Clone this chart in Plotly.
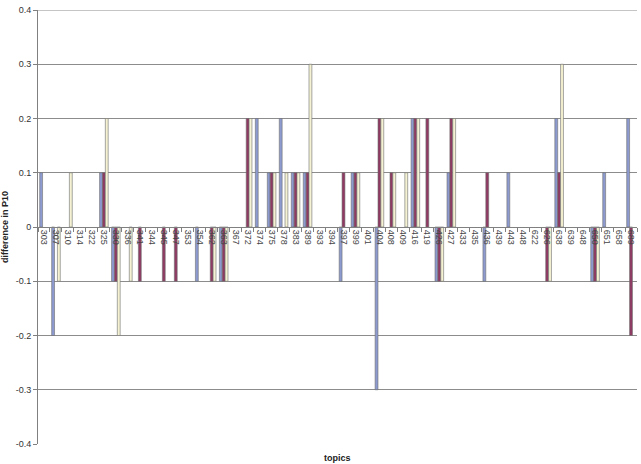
import plotly.graph_objects as go

topics = ["303", "307", "310", "314", "322", "325", "330", "336", "341", "344",
          "345", "347", "353", "354", "362", "363", "367", "372", "374", "375",
          "378", "383", "389", "393", "394", "397", "399", "401", "404", "408",
          "409", "416", "419", "426", "427", "433", "435", "436", "439", "443",
          "448", "622", "626", "638", "639", "648", "650", "651", "658", "689"]

series_a = [0.1, -0.2, 0, 0, 0, 0.1, -0.1, 0, 0, 0,
            0, 0, 0, -0.1, 0, -0.1, 0, 0, 0.2, 0.1,
            0.2, 0.1, 0.1, 0, 0, -0.1, 0.1, 0, -0.3, 0,
            0, 0.2, 0, -0.1, 0.1, 0, 0, -0.1, 0, 0.1,
            0, 0, 0, 0.2, 0, 0, -0.1, 0.1, 0, 0.2]

series_b = [0, 0, 0, 0, 0, 0.1, -0.1, 0, -0.1, 0,
            -0.1, -0.1, 0, 0, -0.1, -0.1, 0, 0.2, 0, 0.1,
            0, 0.1, 0.1, 0, 0, 0.1, 0.1, 0, 0.2, 0.1,
            0, 0.2, 0.2, -0.1, 0.2, 0, 0, 0.1, 0, 0,
            0, 0, -0.1, 0.1, 0, 0, -0.1, 0, 0, -0.2]

series_c = [0, -0.1, 0.1, 0, 0, 0.2, -0.2, -0.1, 0, 0,
            0, 0, 0, 0, -0.1, -0.1, 0, 0.2, 0, 0.1,
            0.1, 0.1, 0.3, 0, 0, 0, 0.1, 0, 0.2, 0.1,
            0.1, 0.2, 0, -0.1, 0.2, 0, 0, 0, 0, 0,
            0, 0, -0.1, 0.3, 0, 0, -0.1, 0, 0, 0]

y_ticks = [0.4, 0.3, 0.2, 0.1, 0, -0.1, -0.2, -0.3, -0.4]
y_tick_labels = ["0.4", "0.3", "0.2", "0.1", "0", "-0.1", "-0.2", "-0.3", "-0.4"]

fig = go.Figure()
for vals, fill in [(series_a, "#8C9AD0"), (series_b, "#8E3A62"), (series_c, "#F4F2D2")]:
    fig.add_trace(go.Bar(
        x=topics, y=[v if v != 0 else None for v in vals],
        marker=dict(color=fill, line=dict(color="#6E6E6E", width=0.6)),
        showlegend=False,
    ))

fig.update_layout(
    width=641, height=464,
    margin=dict(l=38, r=4, t=10, b=20),
    paper_bgcolor="white", plot_bgcolor="white",
    barmode="group", bargap=0.28, bargroupgap=0,
    font=dict(family="Arial, Liberation Sans, sans-serif", color="#333333"),
)

fig.update_xaxes(
    type="category",
    anchor="free", position=0.5,
    showline=True, linecolor="#808080", linewidth=1,
    ticks="outside", tickson="boundaries", ticklen=4, tickcolor="#808080",
    tickangle=90, tickfont=dict(size=9, color="#444444"),
    showgrid=False, zeroline=False,
)

fig.update_yaxes(
    range=[-0.4, 0.4],
    tickvals=y_ticks, ticktext=y_tick_labels,
    tickfont=dict(size=9, color="#333333"),
    ticks="outside", ticklen=4, tickcolor="#808080",
    showline=True, linecolor="#808080", linewidth=1,
    showgrid=True, gridcolor="#8C8C8C", gridwidth=1,
    zeroline=False,
    title=dict(text="<b>difference in P10</b>", font=dict(size=9, color="#222222"), standoff=6),
)

fig.add_shape(type="line", xref="paper", yref="y", x0=0, x1=1, y0=0.4, y1=0.4,
              line=dict(color="#8C8C8C", width=1), layer="below")

fig.add_annotation(
    text="<b>topics</b>", xref="paper", yref="paper",
    x=0.5, y=0, yshift=-14, showarrow=False,
    font=dict(size=9, color="#222222"), yanchor="middle",
)

fig.write_html("out.html")
